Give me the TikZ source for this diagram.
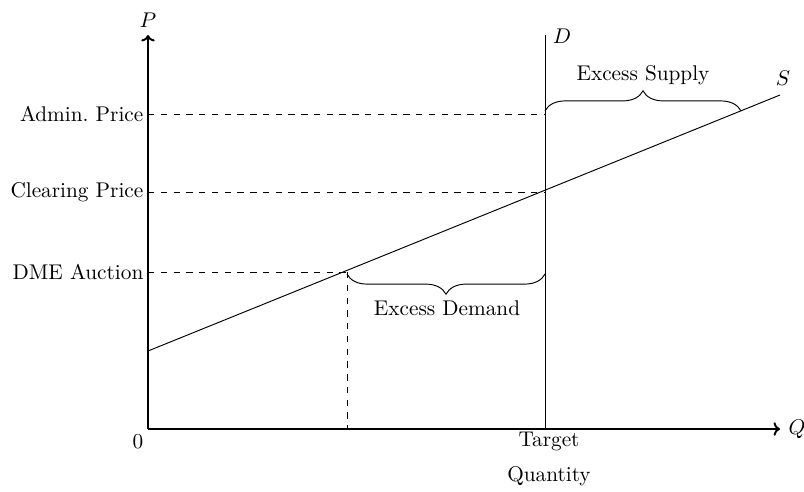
\documentclass[tikz,border=0pt]{standalone}
\usetikzlibrary{decorations.pathreplacing,arrows.meta}
\begin{document}
\begin{tikzpicture}[x=0.47pt,y=-0.47pt,
  axis/.style={line width=0.9pt},
  guide/.style={dashed,line width=0.4pt},
  curve/.style={line width=0.45pt},
  bracebox/.style={decorate,decoration={brace,amplitude=9.5pt},line width=0.45pt},
  lbl/.style={inner sep=2pt}]
\useasboundingbox (0,0) rectangle (804,491);
% key points
\coordinate (O) at (148,429);
\coordinate (Ytop) at (148,35);
\coordinate (Xend) at (780,429);
\coordinate (Dbot) at (545,429);
\coordinate (Dtop) at (545,35);
\coordinate (S0) at (148,351);
\coordinate (S1) at (780,95);
\coordinate (yA) at (148,114);
\coordinate (yC) at (148,192);
\coordinate (yM) at (148,272);
\coordinate (DA) at (545,114);
\coordinate (DC) at (545,192);
\coordinate (DM) at (545,272);
\coordinate (SM) at (347,272);
\coordinate (SMb) at (347,429);
\coordinate (bsL) at (545,111);
\coordinate (bsR) at (741,111);
\coordinate (bdL) at (347,274);
\coordinate (bdR) at (545,274);
% axes
\draw[axis,-{To[length=3pt]}] (O) -- (Xend);
\draw[axis,-{To[length=3pt]}] (O) -- (Ytop);
\node[lbl] (P) at (148,20) {$P$};
\node[lbl,anchor=west] (Q) at (784,429) {$Q$};
\node[lbl] (zero) at (138,442) {0};
% demand and supply
\draw[curve] (Dbot) -- (Dtop);
\node[lbl] (D) at (562,36) {$D$};
\draw[curve] (S0) -- (S1);
\node[lbl] (S) at (783,78) {$S$};
% guides
\draw[guide] (yA) -- (DA);
\draw[guide] (yC) -- (DC);
\draw[guide] (yM) -- (SM);
\draw[guide] (SM) -- (SMb);
% labels
\node[lbl,anchor=east] (lA) at (yA) {Admin.\ Price};
\node[lbl,anchor=east] (lC) at (yC) {Clearing Price};
\node[lbl,anchor=east] (lM) at (yM) {DME Auction};
\node[lbl] (tq1) at (549,441) {Target};
\node[lbl] (tq2) at (549,476) {Quantity};
% braces
\draw[bracebox] (bsL) -- (bsR);
\node[lbl] (ES) at (643,75) {Excess Supply};
\draw[bracebox] (bdR) -- (bdL);
\node[lbl] (ED) at (447,308) {Excess Demand};
\end{tikzpicture}
\end{document}
